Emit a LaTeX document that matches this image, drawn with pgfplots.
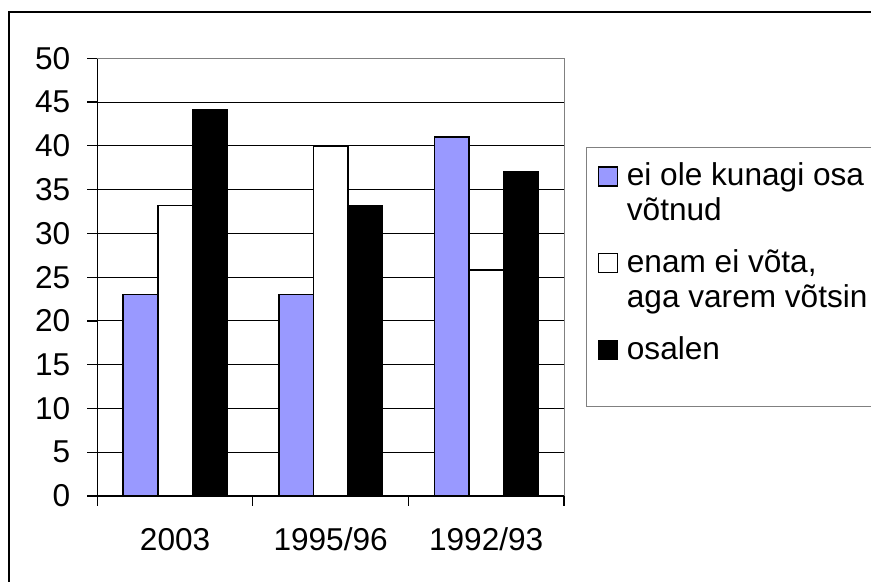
\documentclass[border=0pt]{standalone}
\usepackage{fontspec}
\setmainfont{Liberation Sans}
\usepackage{pgfplots}
\pgfplotsset{compat=1.18}
\definecolor{lav}{HTML}{9999FF}
\definecolor{framegray}{HTML}{808080}

\newcommand{\chartfont}{\fontsize{15.8bp}{17.5bp}\selectfont}
% struts so that every legend entry has the same top and bottom
\newcommand{\lstop}{\rule{0pt}{12bp}}
\newcommand{\lsbot}{\rule[-4bp]{0pt}{4bp}}

\pgfplotsset{
  sq/.style={legend image code/.code={\draw[##1,line width=0.6bp] (0bp,-12bp) rectangle (9.5bp,-2.5bp);}},
}

\begin{document}
\begin{tikzpicture}
\useasboundingbox (0,0) rectangle (435.5bp,291bp);
\begin{scope}
  \clip (0,0) rectangle (435.5bp,291bp);
  \draw[line width=1.4bp] (4.5bp,-10bp) rectangle (460bp,285bp);
  \draw[framegray, line width=0.5bp] (293bp,87.65bp) rectangle (460bp,217bp);
\end{scope}
\begin{axis}[
    at={(48.65bp,43bp)}, anchor=south west,
    scale only axis,
    width=233.35bp, height=218.85bp,
    xmin=-0.5, xmax=2.5,
    ymin=0, ymax=50,
    ytick={0,5,...,50},
    xtick={-0.5,0.5,1.5,2.5},
    x tick label as interval,
    xticklabels={2003,1995/96,1992/93},
    axis lines*=left,
    axis line style={-, black, line width=0.6bp},
    tick align=outside,
    major tick length=5bp,
    tick style={black, line width=0.6bp},
    ymajorgrids,
    grid style={black, line width=0.5bp},
    ybar=0pt, bar width=17.3bp,
    tick label style={font=\chartfont},
    /pgf/number format/assume math mode=true,
    yticklabel style={anchor=east, inner sep=0pt, xshift=-8.3bp},
    xticklabel style={anchor=base, inner sep=0pt, yshift=-22.4bp},
    legend style={at={(axis description cs:1.0722,0.7631)}, anchor=north west,
      draw=none, fill=none, inner sep=0pt, outer sep=0pt,
      row sep=12.4bp, column sep=4.5bp, font=\chartfont,
      nodes={inner sep=0pt, align=left}, cells={anchor=north west}},
    after end axis/.code={
      \draw[framegray, line width=0.5bp] (rel axis cs:0,1) -- (rel axis cs:1,1) -- (rel axis cs:1,0);
    },
]
\addplot[fill=lav, draw=black, line width=0.75bp, sq] coordinates {(0,23) (1,23) (2,41)};
\addplot[fill=white, draw=black, line width=0.75bp, sq] coordinates {(0,33.2) (1,40) (2,25.8)};
\addplot[fill=black, draw=black, line width=0.75bp, sq] coordinates {(0,44.1) (1,33.2) (2,37)};
\legend{{\lstop ei ole kunagi osa\\võtnud\lsbot}, {\lstop enam ei võta,\\aga varem võtsin\lsbot}, {\lstop osalen\lsbot}}
\end{axis}
\end{tikzpicture}
\end{document}
